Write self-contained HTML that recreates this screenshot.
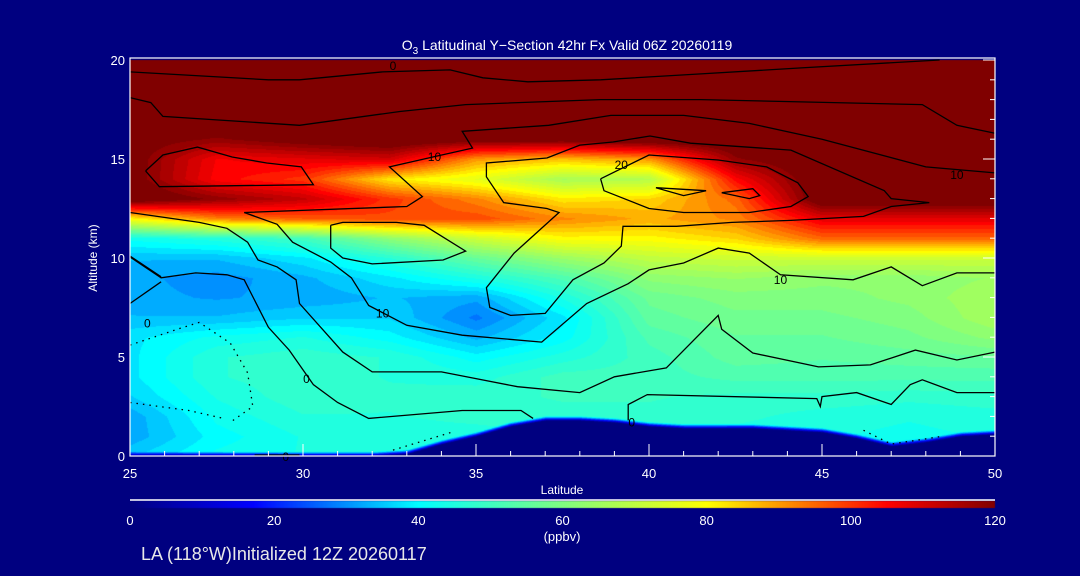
<!DOCTYPE html>
<html><head><meta charset="utf-8"><style>
html,body{margin:0;padding:0;background:#000080;}
#wrap{position:relative;width:1080px;height:576px;background:#000080;overflow:hidden;font-family:"Liberation Sans",sans-serif;}
canvas{position:absolute;left:0;top:0;}
svg{position:absolute;left:0;top:0;}
</style></head><body>
<div id="wrap">
<canvas id="cv" width="1080" height="576"></canvas>
<svg id="sv" width="1080" height="576"></svg>
</div>
<script>
// ---- data ----
const lats = [25,27.5,30,32.5,35,37.5,40,42.5,45,47.5,50];
const alts = [20,19,18,17,16,15,14,13,12,11,10,9,8,7,6,5,4,3,2,1,0];
const o3 = [
[125,125,125,125,125,125,125,125,125,125,125],
[125,125,125,125,125,125,125,125,125,125,125],
[125,125,125,125,125,125,125,125,125,125,125],
[125,125,125,125,125,125,125,125,125,125,125],
[122,118,122,125,122,122,125,125,125,125,125],
[122,106,108,110,90,86,90,118,125,125,125],
[122,105,100,82,76,66,68,105,125,125,125],
[125,118,112,100,92,82,84,95,125,125,125],
[80,92,96,98,98,92,88,92,108,108,108],
[42,45,50,62,72,80,80,84,95,95,95],
[34,34,38,46,56,64,70,72,72,72,72],
[32,30,33,38,44,52,62,64,62,62,64],
[32,31,32,34,32,44,57,60,60,62,66],
[34,34,36,36,28,38,55,58,58,60,66],
[38,42,44,40,33,40,52,56,56,58,62],
[38,46,48,46,40,45,50,55,54,55,56],
[38,46,48,46,45,50,50,52,52,52,52],
[36,44,48,47,48,49,49,48,48,47,48],
[32,42,46,46,47,48,48,47,45,44,45],
[32,40,44,45,45,46,46,45,44,43,44],
[36,42,44,45,45,46,46,45,44,43,44]
];
const terrainLats = [25,26,27,28,29,30,31,32,33,34,35,36,37,38,39,40,41,42,43,44,45,46,47,48,49,50];
const terrainKm = [0,0,0,0,0,0,0,0,0.1,0.6,1.0,1.5,1.8,1.8,1.7,1.5,1.4,1.4,1.4,1.3,1.2,0.9,0.5,0.7,1.0,1.1];
const xTicks = [25,30,35,40,45,50];
const yTicks = [0,5,10,15,20];
const cbTicks = [0,20,40,60,80,100,120];
const contourTop1 = [[25,19.4],[29,19.0],[29.9,19.0],[32.3,19.4],[34.25,19.5],[35.2,19.1],[36.5,18.9],[38.6,19.0],[41.5,19.3],[44.4,19.6],[48.4,20]];
const contourTop2 = [[25,18.1],[25.6,17.85],[25.95,17.15],[29.9,16.7],[32.8,17.4],[34.7,17.75],[38.6,18.0],[41.5,18.0],[47.9,17.75],[48.9,16.7],[50,16.3]];
const contour10 = [[50,14.3],[48,14.6],[45,16.0],[42.9,16.8],[41,17.2],[38.9,17.2],[37.1,16.7],[34.6,16.4],[34.9,15.55],[33.75,15.1],[32.5,14.6],[33.45,13.1],[33,12.6],[28.3,12.3],[29.25,11.7],[29.7,10.8],[30.8,9.8],[31.4,9.0],[31.9,7.6],[33,6.6],[34.6,6.1],[36.9,5.75],[38.2,7.7],[39.4,8.7],[40,9.4],[41,9.75],[42,10.5],[42.9,10.25],[43.8,9.15],[45.9,8.9],[47,9.55],[47.9,8.6],[48.9,9.25],[50,9.25]];
const contourLoop = [[37.05,15.05],[38,15.7],[38.96,15.86],[40.03,16.16],[41.2,15.8],[44.1,15.45],[46.8,13.4],[47,13.0],[48.1,12.8],[47,12.6],[46.2,12.1],[44.1,11.9],[42.4,11.8],[40.8,11.6],[39.25,11.6],[39.2,10.6],[38.7,9.75],[37.8,8.9],[37,7.2],[36,7.1],[35.4,7.5],[35.3,8.5],[36.1,10.25],[37.4,12.3],[37.05,12.5],[35.8,12.8],[35.3,14.1],[35.3,14.8],[37.05,15.05]];
const contourInner = [[38.6,14.0],[38.7,13.4],[40,12.5],[41,12.3],[42.9,12.3],[44.1,12.6],[44.6,13.1],[44.3,13.8],[43.4,14.6],[42,14.95],[40,15.2],[38.6,14.0]];
const contourTri1 = [[40.2,13.55],[41.65,13.4],[41,13.15],[40.2,13.55]];
const contourTri2 = [[42.1,13.3],[43,13.5],[43.2,13.15],[42.9,13.0],[42.1,13.3]];
const contourTongue = [[25.45,14.4],[25.95,15.2],[26.95,15.6],[27.95,15.1],[28.95,14.8],[29.95,14.6],[30.3,13.7],[25.85,13.6],[25.45,14.4]];
const contourMid = [[30.8,11.65],[31.15,11.8],[32.7,11.8],[33.5,11.65],[34.7,10.35],[34.05,9.9],[32,9.7],[31.15,10],[30.8,10.5],[30.8,11.65]];
const contourL6 = [[25,12.3],[27,11.8],[27.8,11.5],[28.4,10.8],[28.7,9.9],[29.25,9.55],[29.8,8.9],[29.9,7.7],[31.15,5.25],[32,4.25],[34,4.25],[36.2,3.5],[38,3.2],[39,4],[40.5,4.45],[42,7.1],[42.1,6.4],[43,5.2],[44.9,4.5],[46.4,4.6],[47.7,5.35],[48.9,4.85],[50,5.25]];
const contourL4 = [[25,10.05],[25.9,9.0],[26.9,9.25],[27.8,9.15],[28.3,8.9],[29,6.5],[29.6,5.35],[30.3,3.6],[31,2.7],[31.9,1.9],[34.6,2.3],[36.3,2.3],[36.65,1.9]];
const contourL4b = [[39.4,1.8],[39.4,2.6],[39.95,3.1],[44.85,2.9],[44.95,2.5],[45,3.0],[46,3.2],[47,2.6],[47.55,3.6],[47.9,3.85],[48.9,3.2],[50,3.2]];
const contourLeft0 = [[25,7.7],[25.9,8.8]];
const contourLeft1 = [[25,10.1],[25.9,9.05]];
const contourBottom = [[28.6,0.05],[29.9,0.05]];
const dotted1 = [[25,5.6],[26.45,6.45],[27,6.75],[27.9,5.7],[28.4,4.2],[28.55,2.5],[27.9,1.7]];
const dotted2 = [[25,2.7],[26.7,2.3],[27.7,1.9]];
const dotted3 = [[32.6,0.3],[34.3,1.2]];
const dotted4 = [[46.2,1.3],[47,0.6],[48.5,1.0]];
const contourLabels = [["0",32.6,19.7],["10",33.8,15.1],["10",48.9,14.2],["20",39.2,14.7],["10",43.8,8.9],["10",32.3,7.2],["0",25.5,6.7],["0",30.1,3.9],["0",29.5,-0.05],["0",39.5,1.7]];

// ---- axes ----
const X0=130,X1=995,Y0=456,Y1=60;
const xs = lat => X0+(lat-25)/25*(X1-X0);
const ys = alt => Y0-alt/20*(Y0-Y1);

const stops=[[0,[0,0,128]],[17,[0,0,255]],[40,[0,255,255]],[60,[128,255,128]],[80,[255,255,0]],[105,[255,0,0]],[120,[128,0,0]]];
function cmap(v){
  v=Math.max(0,Math.min(120,v));
  for(let i=1;i<stops.length;i++){
    if(v<=stops[i][0]){const a=stops[i-1],b=stops[i];const t=(v-a[0])/(b[0]-a[0]);
      return a[1].map((c,k)=>Math.round(c+(b[1][k]-c)*t));}
  }
  return stops[stops.length-1][1];
}
function interp1(xa,ya,x){
  if(x<=xa[0])return ya[0];
  for(let i=1;i<xa.length;i++){if(x<=xa[i]){const t=(x-xa[i-1])/(xa[i]-xa[i-1]);return ya[i-1]+(ya[i]-ya[i-1])*t;}}
  return ya[ya.length-1];
}
function field(lat,alt){
  let fc=(lat-lats[0])/(lats[1]-lats[0]); fc=Math.max(0,Math.min(lats.length-1.0001,fc));
  let fr=(alts[0]-alt)/(alts[0]-alts[1]); fr=Math.max(0,Math.min(alts.length-1.0001,fr));
  const c=Math.floor(fc),r=Math.floor(fr),tc=fc-c,tr=fr-r;
  const v=o3[r][c]*(1-tc)*(1-tr)+o3[r][c+1]*tc*(1-tr)+o3[r+1][c]*(1-tc)*tr+o3[r+1][c+1]*tc*tr;
  const t=interp1(terrainLats,terrainKm,lat);
  const m=Math.max(0,Math.min(1,(alt-t)/0.25));
  return v*m;
}
const cv=document.getElementById('cv');const ctx=cv.getContext('2d');
const img=ctx.createImageData(X1-X0,Y0-Y1);
for(let py=0;py<Y0-Y1;py++){for(let px=0;px<X1-X0;px++){
  const lat=25+px/(X1-X0)*25, alt=20-py/(Y0-Y1)*20;
  let v=field(lat,alt); v=Math.round(v/2.5)*2.5;
  const c=cmap(v);const i=(py*(X1-X0)+px)*4;
  img.data[i]=c[0];img.data[i+1]=c[1];img.data[i+2]=c[2];img.data[i+3]=255;}}
ctx.putImageData(img,X0,Y1);
// colorbar
const cbg=ctx.createImageData(X1-X0,7);
for(let px=0;px<X1-X0;px++){const c=cmap(px/(X1-X0)*120);for(let py=0;py<7;py++){const i=(py*(X1-X0)+px)*4;cbg.data[i]=c[0];cbg.data[i+1]=c[1];cbg.data[i+2]=c[2];cbg.data[i+3]=255;}}
ctx.putImageData(cbg,X0,501);

const NS='http://www.w3.org/2000/svg';
const sv=document.getElementById('sv');
function mk(tag,attrs,parent){const e=document.createElementNS(NS,tag);for(const k in attrs)e.setAttribute(k,attrs[k]);(parent||sv).appendChild(e);return e;}
function line(pts,name,dash){
  const e=mk('polyline',{points:pts.map(p=>xs(p[0]).toFixed(1)+','+ys(p[1]).toFixed(1)).join(' '),fill:'none',stroke:'#000','stroke-width':1.3,'stroke-dasharray':dash?'1.5 5':'none'});
  
  
}
line(contourTop1,'contour-top-1');line(contourTop2,'contour-top-2');line(contour10,'contour-10');
line(contourLoop,'contour-loop');line(contourInner,'contour-inner');line(contourTri1,'contour-tri-1');line(contourTri2,'contour-tri-2');
line(contourTongue,'contour-tongue');line(contourMid,'contour-mid');line(contourL6,'contour-lower-1');
line(contourL4,'contour-lower-2');line(contourL4b,'contour-lower-3');line(contourLeft0,'contour-left-0');line(contourLeft1,'contour-left-1');line(contourBottom,'contour-bottom');
line(dotted1,'dotted-contour-1',true);line(dotted2,'dotted-contour-2',true);line(dotted3,'dotted-contour-3',true);line(dotted4,'dotted-contour-4',true);
contourLabels.forEach(l=>{
  const t=mk('text',{x:xs(l[1]),y:ys(l[2])+4,'font-size':12,fill:'#000','text-anchor':'middle'});t.textContent=l[0];
  
  
});
// frame
const fr=mk('rect',{x:X0,y:Y1-2,width:X1-X0,height:Y0-Y1+2,fill:'none',stroke:'#fff','stroke-width':1.2});


for(let lat=25;lat<=50;lat++){
  const major=lat%5===0;const x=xs(lat);
  const t=mk('line',{x1:x,x2:x,y1:Y0,y2:Y0-(major?12:5),stroke:'#fff','stroke-width':1});
  
  
}
for(let a=0;a<=20;a++){
  const y=ys(a);const major=a%5===0;
  const t=mk('line',{x1:X1,x2:X1-(major?12:5),y1:y,y2:y,stroke:'#fff','stroke-width':1});
  
  
}
xTicks.forEach(v=>{const t=mk('text',{x:xs(v),y:478,'font-size':13,fill:'#fff','text-anchor':'middle'});t.textContent=v;
  
  });
yTicks.forEach(v=>{const t=mk('text',{x:125,y:ys(v)+5,'font-size':13,fill:'#fff','text-anchor':'end'});t.textContent=v;
  
  });
const cbl=mk('line',{x1:X0,x2:X1,y1:500,y2:500,stroke:'#fff','stroke-width':1.5});


cbTicks.forEach(v=>{const t=mk('text',{x:X0+v/120*(X1-X0),y:525,'font-size':13,fill:'#fff','text-anchor':'middle'});t.textContent=v;
  
  });
</script>
<svg width="1080" height="576" style="position:absolute;left:0;top:0">
<text x="567" y="50" font-family="Liberation Sans" font-size="14" fill="#fff" text-anchor="middle">O<tspan font-size="10" dy="4">3</tspan><tspan dy="-4"> Latitudinal Y−Section 42hr  Fx Valid 06Z 20260119</tspan></text>
<text x="562" y="494" font-family="Liberation Sans" font-size="12" fill="#fff" text-anchor="middle">Latitude</text>
<text x="97" y="258" font-family="Liberation Sans" font-size="12" fill="#fff" text-anchor="middle" transform="rotate(-90 97 258)">Altitude (km)</text>
<text x="562" y="541" font-family="Liberation Sans" font-size="13" fill="#fff" text-anchor="middle">(ppbv)</text>
<text x="141" y="560" font-family="Liberation Sans" font-size="18" fill="#e8e8e8">LA (118°W)Initialized 12Z 20260117</text>
</svg>
</body></html>
